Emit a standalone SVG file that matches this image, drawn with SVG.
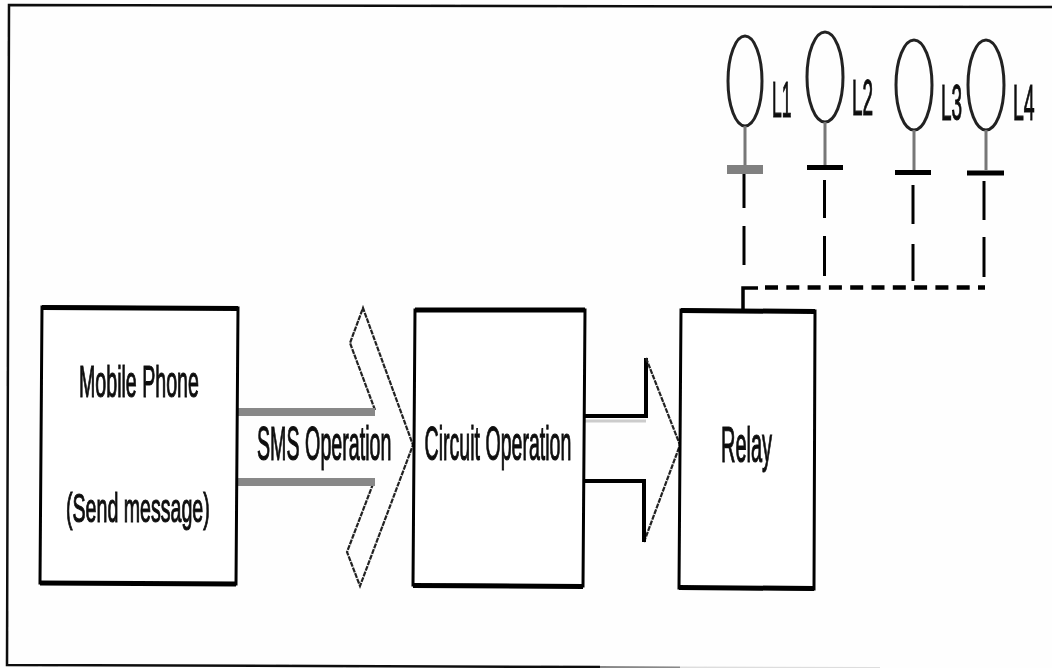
<svg xmlns="http://www.w3.org/2000/svg" width="1052" height="668" viewBox="0 0 1052 668">
<style>
.box{fill:#fff;stroke:#000;stroke-width:3}
.top{fill:none;stroke:#000;stroke-width:5}
.lamp{fill:none;stroke:#222;stroke-width:3}
.stem{fill:none;stroke:#777;stroke-width:3}
.dash{fill:none;stroke:#000;stroke-width:3}
.arrow{fill:none;stroke:#222;stroke-width:2.2;stroke-dasharray:5 1}
text{font-family:"Liberation Sans",Arial,sans-serif;fill:#111;stroke:#111;stroke-width:1.2}
</style>
<defs><filter id="b" x="-2%" y="-2%" width="104%" height="104%"><feGaussianBlur stdDeviation="0.55"/></filter></defs>
<rect width="1052" height="668" fill="#fefefe"/>
<g filter="url(#b)">
<g id="frame" fill="none"><path d="M1052 7L9 5L7 665L600 667" stroke="#111" stroke-width="2.5"/><path d="M600 667L680 667.500" stroke="#888" stroke-width="2"/><path d="M680 667.500L880 668" stroke="#ddd" stroke-width="2"/></g>
<g id="connectors">
<path class="arrow" d="M375 410L350 343L363 308L413 445L360 586L347 552L373 484"/>
<path d="M238 412H375M238 482H375" fill="none" stroke="#888" stroke-width="8"/>
<path d="M585 416H646V358" fill="none" stroke="#000" stroke-width="4"/>
<path d="M585 421H646" fill="none" stroke="#ccc" stroke-width="3"/>
<path class="arrow" d="M646 358L680 445L644 542"/>
<path d="M584 481H644V542" fill="none" stroke="#000" stroke-width="4"/>
<path class="dash" d="M744 169V208M744 226V265M824.5 180V218M824.5 236V276M913 185V224M913 244V281M984 181V220M984 237V277"/>
<path d="M743 310V288H758" fill="none" stroke="#000" stroke-width="3.5"/>
<path d="M765 287.5H985" fill="none" stroke="#000" stroke-width="4.5" stroke-dasharray="13 8.3"/>
</g>
<g id="phone"><path class="box" d="M42 307L238 308L236 584L40 583Z"/><path class="top" d="M42 307.500L238 308.500M40 583L236 584"/>
<text transform="translate(79 397) scale(.446 1)" font-size="44">Mobile Phone</text>
<text transform="translate(66 522) scale(.478 1)" font-size="41">(Send message)</text></g>
<text id="sms-label" transform="translate(257 460) scale(.41 1)" font-size="48">SMS Operation</text>
<g id="circuit"><path class="box" d="M415 310L585 310L583 586L413 585Z"/><path class="top" d="M415 310H585M413 585.500L583 586.500"/>
<text transform="translate(424.500 460) scale(.408 1)" font-size="48">Circuit Operation</text></g>
<g id="relay"><path class="box" d="M681 310L815 311L814 589L679 588Z"/><path class="top" d="M681 310.500L815 311.500M679 587.500L814 588.500"/>
<text transform="translate(721 462) scale(.4 1)" font-size="50">Relay</text></g>
<g id="L1"><ellipse class="lamp" cx="745" cy="81" rx="17" ry="45"/><path class="stem" d="M745 126V165"/><path d="M727 169.500H763" stroke="#808080" stroke-width="9"/>
<text transform="translate(772 117) scale(.35 1)" font-size="50">L1</text></g>
<g id="L2"><ellipse class="lamp" cx="825" cy="77" rx="18" ry="45"/><path class="stem" d="M825 122V165"/><path d="M807 167.500H843" stroke="#000" stroke-width="5"/>
<text transform="translate(852 115) scale(.38 1)" font-size="50">L2</text></g>
<g id="L3"><ellipse class="lamp" cx="914" cy="85" rx="18" ry="45"/><path class="stem" d="M914 130V170"/><path d="M895 172.500H931" stroke="#000" stroke-width="5"/>
<text transform="translate(941 120) scale(.38 1)" font-size="50">L3</text></g>
<g id="L4"><ellipse class="lamp" cx="986" cy="85" rx="18" ry="45"/><path class="stem" d="M986 130V170"/><path d="M967 173H1004" stroke="#000" stroke-width="5"/>
<text transform="translate(1013 120) scale(.39 1)" font-size="50">L4</text></g>
</g>
</svg>
